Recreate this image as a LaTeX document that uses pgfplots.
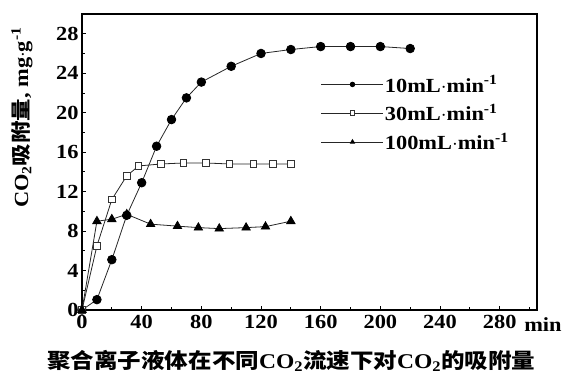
\documentclass[border=0pt]{standalone}
\usepackage{pgfplots}
\pgfplotsset{compat=1.18}
\usepackage{fontspec}
\setmainfont{Liberation Serif}[BoldFont={Liberation Serif Bold}, FakeStretch=1.12]
\newfontfamily\cjk{Noto Sans CJK SC}[FakeStretch=1.12]
\begin{document}
\begin{tikzpicture}
\path[use as bounding box] (-82pt,-65pt) rectangle (482pt,310pt);
\begin{axis}[
  at={(0,0)}, anchor=south west,
  scale only axis, width=455pt, height=296pt,
  xmin=0, xmax=305, ymin=0, ymax=30,
  axis line style={line width=2pt},
  xtick={0,40,...,280}, minor xtick={20,60,...,300},
  ytick={0,4,...,28}, minor ytick={2,6,...,30},
  tick align=inside, major tick length=4pt, minor tick length=3pt,
  xtick pos=bottom, ytick pos=left,
  tick style={line width=0.8pt, black},
  /pgf/number format/assume math mode=true,
  tick label style={font=\fontsize{20}{20}\selectfont\bfseries},
  xticklabel style={yshift=-2pt},
  legend style={draw=none, fill=none, at={(axis description cs:0.525,0.797)}, anchor=north west,
    font=\fontsize{20}{20}\selectfont\bfseries, row sep=8.5pt, inner sep=0pt,
    nodes={inner sep=1pt}},
  legend cell align=left,
  legend image code/.code={\draw[mark repeat=2,mark phase=2,#1,mark size=2.3pt] plot coordinates {(0pt,0pt) (31pt,0pt) (62pt,0pt)};},
  every axis plot/.append style={black!85, line width=0.8pt},
  clip=false,
]
\addplot[mark=*, mark size=4.3pt, mark options={fill=black, draw=black}] coordinates {
(0,0)(10,1.05)(20,5.1)(30,9.6)(40,12.9)(50,16.6)(60,19.3)(70,21.5)(80,23.1)(100,24.7)(120,26.0)(140,26.4)(160,26.7)(180,26.7)(200,26.7)(220,26.5)};
\addlegendentry{10mL$\cdot$min\textsuperscript{-1}}
\addplot[mark=square*, mark size=3.2pt, mark options={fill=white, draw=black!80, line width=0.8pt}] coordinates {
(0,0)(10,6.5)(20,11.2)(30,13.6)(38,14.6)(53,14.8)(68,14.9)(83,14.9)(99,14.8)(115,14.8)(128,14.8)(140,14.8)};
\addlegendentry{30mL$\cdot$min\textsuperscript{-1}}
\addplot[mark=triangle*, mark size=4.8pt, mark options={fill=black, draw=black}] coordinates {
(0,0)(10,9.0)(20,9.2)(30,9.7)(46,8.7)(64,8.5)(78,8.35)(92,8.25)(110,8.35)(123,8.45)(140,9.0)};
\addlegendentry{100mL$\cdot$min\textsuperscript{-1}}
\node[rotate=90, font=\fontsize{20}{20}\selectfont\bfseries] at (axis description cs:-0.132,0.65) {CO\textsubscript{2}{\cjk 吸附量}, mg$\cdot$g\textsuperscript{-1}};
\node[font=\fontsize{20}{20}\selectfont\bfseries] at (axis description cs:1.013,-0.05) {min};
\node[font=\fontsize{21}{21}\selectfont\bfseries] at (axis description cs:0.46,-0.172) {{\cjk 聚合离子液体在不同}CO\textsubscript{2}{\cjk 流速下对}CO\textsubscript{2}{\cjk 的吸附量}};
\end{axis}
\end{tikzpicture}
\end{document}
